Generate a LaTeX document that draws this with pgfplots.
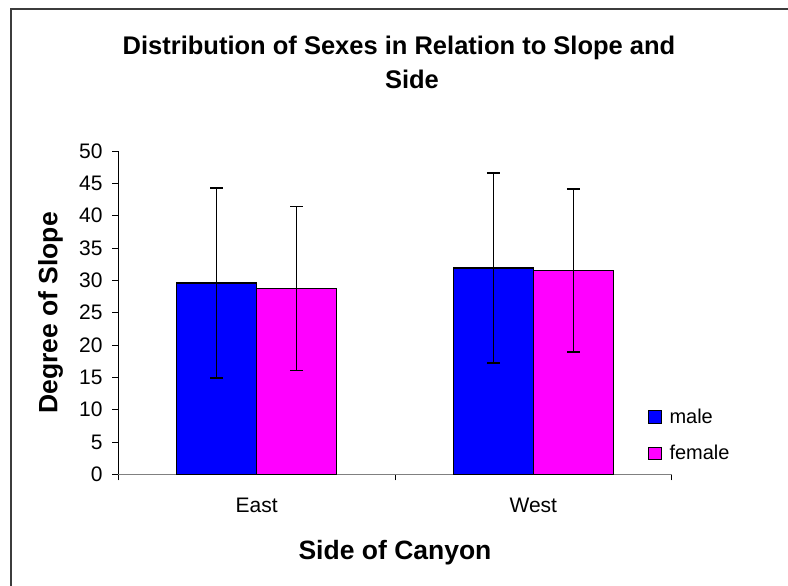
\documentclass[border=0pt]{standalone}
\usepackage{pgfplots}
\pgfplotsset{compat=1.18}
\usepackage{fontspec}
\setmainfont{Liberation Sans}
\definecolor{mblue}{RGB}{0,0,255}
\definecolor{mmag}{RGB}{255,0,255}
\definecolor{bord}{RGB}{60,60,60}
\begin{document}
\begin{tikzpicture}
\draw[line width=1.5pt, bord] (11pt,0pt) -- (11pt,577pt) -- (788pt,577pt);
\begin{axis}[
  at={(118.3pt,111.7pt)}, anchor=south west,
  scale only axis, width=553.4pt, height=323.3pt,
  xmin=-0.5, xmax=1.5, ymin=0, ymax=50,
  axis lines=left,
  x axis line style={-, gray, line width=1pt},
  y axis line style={-, black, line width=1pt},
  tick align=outside,
  major tick length=6pt,
  tick style={black, line width=0.9pt},
  ytick={0,5,...,50},
  xtick={-0.5,0.5,1.5},
  xticklabels={},
  extra x ticks={0,1},
  extra x tick labels={East,West},
  extra x tick style={major tick length=0pt},
  /pgf/number format/assume math mode=true,
  tick label style={font=\fontsize{21}{24}\selectfont},
  yticklabel style={anchor=east, inner sep=0pt, xshift=-9.6pt, font=\fontsize{21}{24}\selectfont},
  xticklabel style={anchor=base, inner sep=0pt, yshift=-38.7pt, font=\fontsize{21}{24}\selectfont},
  ybar=0pt, bar width=0.289,
  title={Distribution of Sexes in Relation to Slope and\hspace*{26pt}\\Side},
  title style={at={(axis description cs:0.5307,1.3371)}, anchor=north, align=center, inner sep=0pt,
    font=\fontsize{25.5}{34}\selectfont\bfseries},
  xlabel={Side of Canyon},
  xlabel style={at={(axis description cs:0.5,-0.2635)}, anchor=base, inner sep=0pt,
    font=\fontsize{26.5}{30}\selectfont\bfseries},
  ylabel={Degree of Slope},
  ylabel style={at={(axis description cs:-0.1099,0.499)}, anchor=base, rotate=0, inner sep=0pt,
    font=\fontsize{26.5}{30}\selectfont\bfseries},
  legend style={draw=none, fill=none, at={(axis description cs:0.9572,0.2029)}, anchor=north west,
    inner sep=0pt, outer sep=0pt, row sep=20.7pt, column sep=0pt,
    font=\fontsize{20}{24}\selectfont,
    nodes={inner sep=0pt}, cells={anchor=base west}},
  error bars/error bar style={black, line width=1.3pt},
  error bars/error mark options={rotate=90, mark size=6.5pt, line width=1.3pt, black},
]
\addplot+[ybar, bar shift=-0.1445, fill=mblue, draw=black, line width=1.4pt,
  legend image code/.code={\draw[fill=mblue, draw=black, line width=1pt] (0pt,0pt) rectangle (12.5pt,12.5pt); \path[draw=none, fill=none] (0pt,0pt) rectangle (21pt,1pt);},
  error bars/.cd, y dir=both, y explicit]
  coordinates {(0,29.6) +- (0,14.7) (1,31.9) +- (0,14.7)};
\addplot+[ybar, bar shift=0.1445, fill=mmag, draw=black, line width=1.4pt,
  legend image code/.code={\draw[fill=mmag, draw=black, line width=1pt] (0pt,0pt) rectangle (12.5pt,12.5pt); \path[draw=none, fill=none] (0pt,0pt) rectangle (21pt,1pt);},
  error bars/.cd, y dir=both, y explicit]
  coordinates {(0,28.7) +- (0,12.7) (1,31.5) +- (0,12.6)};
\legend{male,female}
\end{axis}
\pgfresetboundingbox
\path[use as bounding box] (0pt,0pt) rectangle (788pt,586pt);
\end{tikzpicture}
\end{document}
